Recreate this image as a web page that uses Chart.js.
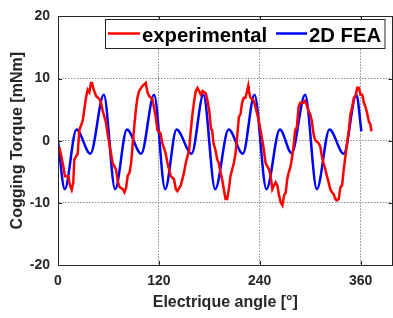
<!DOCTYPE html>
<html>
<head>
<meta charset="utf-8">
<script src="https://cdn.jsdelivr.net/npm/chart.js@4"></script>
<style>
html,body{margin:0;padding:0;background:#fff;overflow:hidden;}
#wrap{width:393px;height:318px;position:relative;}
</style>
</head>
<body>
<div id="wrap"><canvas id="c" width="393" height="318"></canvas></div>
<script>
const xTicks = [0, 120, 240, 360];
const yTicks = [-20, -10, 0, 10, 20];
const seriesNames = ["experimental", "2D FEA"];

const redX = [1.5,4.4,6.3,8.3,12.3,14.3,16.3,18.2,19.4,23.4,25.4,29.4,33.3,35.3,37.3,39.3,40.5,42.5,45.3,49.2,
  51,53.2,57,59.2,61,63,65,69,71,73,77,79,81,83,85,87,89,91,93,94.5,
  96.5,100.4,104.4,106.4,108.4,112.3,116.3,118.3,122,124.2,128,130.2,134.2,138,140.2,142,146.1,150,152,154,
  156,158,160,162,164,166,170,172,176,178,180,182,183.4,185,187.3,189.4,191.3,193.3,195.3,197.3,
  199.3,201.3,203.3,205.2,209.2,211.2,213.2,215.2,217.2,219,221,223,225,226.3,227,229,233,235,237,239,
  241,243,245,247,251,253,255,257,259,261,263,265,267,269,271,272.7,274.6,276.6,278.2,280.2,
  282.2,284.2,286.2,288.2,292,294,296,298,300,302,304,306,310,312,314,316,318,320,322,324,
  326,328,330,332,334,336,338,340,342,344,346,348,350,352,354,356,358,360,362,364,
  366,368,370,371.5,373];
const redY = [-1.0,-2.8,-4.1,-5.7,-5.7,-7.2,-7.9,-6.7,-3.0,-2.1,1.7,3.2,6.9,8.2,7.8,9.3,9.3,8.2,7.2,6.7,
  6.2,4.8,3.0,0.9,-0.4,-2.0,-3.6,-4.6,-6.4,-7.4,-7.8,-8.3,-7.6,-5.6,-5.2,-3.6,-0.4,2.7,5.4,6.9,
  8.0,8.8,9.3,7.8,7.2,6.7,3.8,1.7,1.2,-0.4,-2.0,-3.6,-5.7,-6.2,-7.8,-8.1,-7.2,-5.1,-3.6,-2.5,
  -1.6,1.7,4.3,6.4,8.0,8.5,7.4,8.0,7.6,6.4,4.8,1.9,1.7,-0.4,-1.5,-3.0,-3.6,-5.1,-6.2,-7.8,
  -9.4,-9.4,-7.8,-5.7,-3.6,-2.1,0.6,3.8,4.3,6.1,6.9,6.9,8.0,8.8,8.0,6.9,6.4,5.4,4.3,3.2,
  1.7,0.1,-1.5,-3.6,-4.6,-5.7,-7.8,-7.2,-6.7,-7.2,-8.8,-9.9,-10.4,-8.8,-8.3,-6.2,-5.1,-4.2,-3.0,-0.9,
  1.7,2.2,5.4,6.1,6.1,6.4,5.7,4.8,4.3,3.2,1.1,0.1,-0.4,-0.9,-2.5,-3.6,-4.6,-5.7,-6.7,-7.8,
  -8.3,-8.6,-9.4,-9.6,-9.4,-7.5,-7.2,-4.6,-2.5,-0.4,1.7,4.3,5.4,6.9,7.2,8.5,8.5,7.4,7.4,6.1,
  5.4,4.3,3.0,2.7,1.5];

const blueX = [0,8,22,38.5,54.5,68,82,99,114.3,127.5,141,159,173,187,203,220,233.8,248,264,278,294,308,323,340,355,361];
const blueY = [0,-7.8,1.8,-2.1,7.4,-7.8,1.8,-2.1,7.4,-7.8,1.8,-2.1,7.4,-7.8,1.8,-2.1,7.4,-7.8,1.8,-2.0,7.4,-7.8,1.8,-2.1,7.4,1.5];

const FONT = "'Liberation Sans', Arial, sans-serif";
const TXT = '#262626';

const frame = {
  id: 'frame',
  afterDatasetsDraw(chart) {
    const {ctx, chartArea: a, scales} = chart;
    ctx.save();
    ctx.strokeStyle = '#262626';
    ctx.lineWidth = 1;
    ctx.beginPath();
    xTicks.forEach(v => {
      const p = Math.round(scales.x.getPixelForValue(v)) + 0.5;
      ctx.moveTo(p, a.bottom); ctx.lineTo(p, a.bottom - 4);
      ctx.moveTo(p, a.top); ctx.lineTo(p, a.top + 4);
    });
    yTicks.forEach(v => {
      const p = Math.round(scales.y.getPixelForValue(v)) + 0.5;
      ctx.moveTo(a.left, p); ctx.lineTo(a.left + 4, p);
      ctx.moveTo(a.right, p); ctx.lineTo(a.right - 4, p);
    });
    ctx.stroke();
    ctx.strokeRect(Math.round(a.left) + 0.5, Math.round(a.top) + 0.5,
      Math.round(a.right - a.left) - 1, Math.round(a.bottom - a.top));
    // legend
    const bx = 105.5, by = 19.5, bw = 279.5, bh = 29;
    ctx.fillStyle = '#fff';
    ctx.fillRect(bx, by, bw, bh);
    ctx.strokeStyle = '#262626';
    ctx.strokeRect(bx, by, bw, bh);
    const ds = chart.data.datasets;
    const items = [{x1: 108, x2: 140, tx: 142}, {x1: 276, x2: 307, tx: 309}];
    ctx.font = 'bold 20.3px ' + FONT;
    ctx.textBaseline = 'alphabetic';
    ctx.textAlign = 'left';
    items.forEach((it, i) => {
      ctx.strokeStyle = ds[i].borderColor;
      ctx.lineWidth = 2.5;
      ctx.beginPath(); ctx.moveTo(it.x1, 33.5); ctx.lineTo(it.x2, 33.5); ctx.stroke();
      ctx.fillStyle = '#000';
      ctx.fillText(ds[i].label, it.tx, 42);
    });
    ctx.restore();
  }
};

new Chart(document.getElementById('c'), {
  type: 'line',
  data: {
    datasets: [
      {label: seriesNames[0], data: redX.map((x, i) => ({x, y: redY[i]})), borderColor: '#ff0000',
       borderWidth: 2.5, pointRadius: 0, tension: 0, fill: false},
      {label: seriesNames[1], data: blueX.map((x, i) => ({x, y: blueY[i]})), borderColor: '#0000ff',
       borderWidth: 2.5, pointRadius: 0, cubicInterpolationMode: 'monotone', fill: false}
    ]
  },
  options: {
    responsive: false,
    animation: false,
    devicePixelRatio: 1,
    layout: {padding: {top: 11, right: 0.5, left: 0, bottom: 0}},
    plugins: {legend: {display: false}, tooltip: {enabled: false}},
    scales: {
      x: {
        type: 'linear', min: 0, max: 398,
        afterBuildTicks: s => { s.ticks = xTicks.map(v => ({value: v})); },
        afterFit: s => { s.height = 53; },
        grid: {color: '#8a8a8a', lineWidth: 1, drawTicks: false},
        border: {display: true, color: '#262626', width: 1, dash: [1.5, 1.5]},
        ticks: {font: {family: FONT, size: 14, weight: 'bold'}, color: TXT, padding: 8, maxRotation: 0,
          callback: v => String(v)},
        title: {display: true, text: 'Electrique angle [°]', color: TXT,
          font: {family: FONT, size: 16, weight: 'bold'}, padding: {top: 0, bottom: 5.4}}
      },
      y: {
        type: 'linear', min: -20, max: 20,
        afterBuildTicks: s => { s.ticks = yTicks.map(v => ({value: v})); },
        afterFit: s => { s.width = 58; },
        grid: {color: '#8a8a8a', lineWidth: 1, drawTicks: false},
        border: {display: true, color: '#262626', width: 1, dash: [1.5, 1.5]},
        ticks: {font: {family: FONT, size: 14, weight: 'bold'}, color: TXT, padding: 8,
          callback: v => String(v)},
        title: {display: true, text: 'Cogging Torque [mNm]', color: TXT,
          font: {family: FONT, size: 16, weight: 'bold'}, padding: {top: 8.2, bottom: 0}}
      }
    }
  },
  plugins: [frame]
});
</script>
</body>
</html>
